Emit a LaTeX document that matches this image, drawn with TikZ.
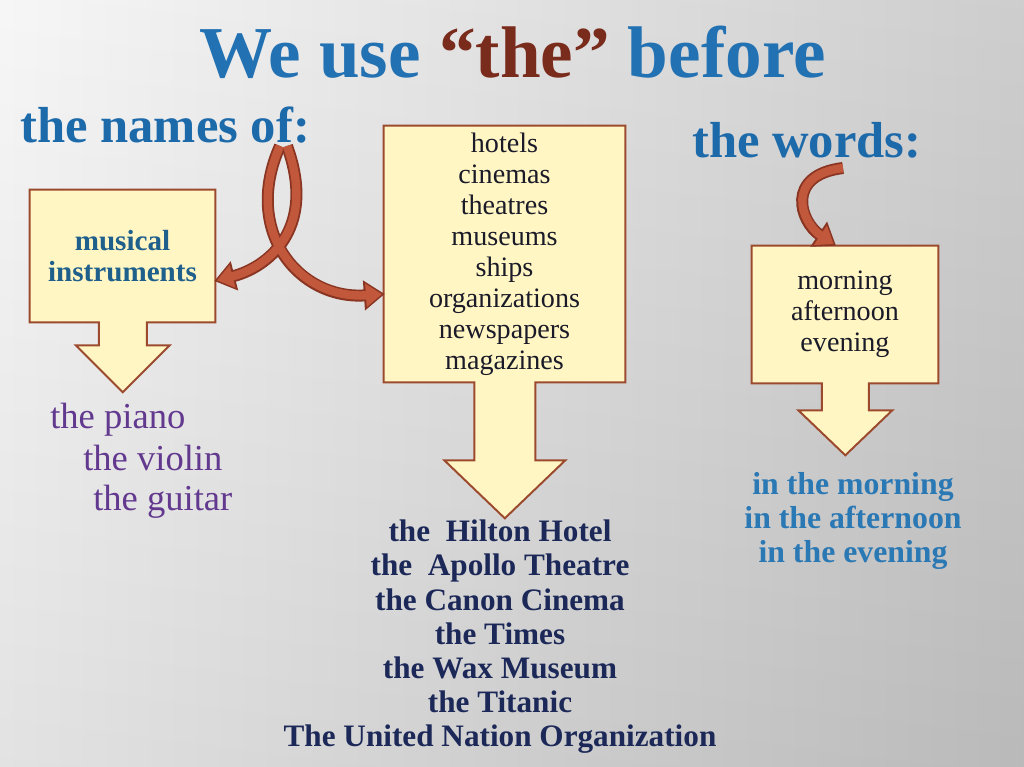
\documentclass[tikz,border=0pt]{standalone}
\usepackage{fontspec}
\setmainfont{Liberation Serif}
\usepackage{xcolor}
\usetikzlibrary{positioning, arrows.meta, calc, backgrounds}
\definecolor{titleblue}{HTML}{2271B3}
\definecolor{thebrown}{HTML}{7A2C1C}
\definecolor{headblue}{HTML}{1D6AAB}
\definecolor{boxfill}{HTML}{FFF6C4}
\definecolor{boxedge}{HTML}{9C4A2E}
\definecolor{ribbonfill}{HTML}{C1583C}
\definecolor{ribbonedge}{HTML}{8A3522}
\definecolor{tealblue}{HTML}{1F5F8C}
\definecolor{plum}{HTML}{62398F}
\definecolor{navy}{HTML}{1B2858}
\definecolor{skyblue}{HTML}{2A78B4}
\definecolor{inktext}{HTML}{1A1A28}

\begin{document}
\begin{tikzpicture}[
        x=0.025cm, y=-0.025cm,
        every node/.style={inner sep=0pt},
        heading/.style={font=\fontsize{36}{40}\selectfont\bfseries, text=headblue, anchor=base west},
        box/.style={align=center, font=\fontsize{20}{22}\selectfont, text=inktext},
        arrowbox/.style={draw=boxedge, fill=boxfill, line width=1.4pt, line join=miter},
        ribbon/.style={line width=3mm, ribbonedge, -{Triangle[width=7.2mm,length=5.2mm]}},
        ribboncore/.style={line width=2.1mm, ribbonfill, shorten >=0.7mm, -{Triangle[width=5.6mm,length=4mm]}},
        example/.style={font=\fontsize{26}{30}\selectfont, text=plum, anchor=base west},
        list/.style={align=center, font=\fontsize{22.2}{24.2}\selectfont\bfseries},
    ]
    \begin{scope}[on background layer]
        \shade[left color=gray!7, right color=gray!42] (0,0) rectangle (1024,767);
        \shade[top color=white, bottom color=black, opacity=0.08] (0,0) rectangle (1024,767);
    \end{scope}
    \useasboundingbox (0,0) rectangle (1024,767);

    % headings
    \node[font=\fontsize{52}{56}\selectfont\bfseries, text=titleblue, anchor=base] (title) at (512.5,78)
        {We use \textcolor{thebrown}{“the”} before};
    \node[heading] (namesof) at (20,143) {the names of:};
    \node[heading] (words) at (692,158) {the words:};

    % boxes
    \node[box, minimum width=4.625cm, minimum height=3.3cm, text=tealblue,
        font=\fontsize{20.7}{22}\selectfont\bfseries] (instr) at (122.5,256) {musical\\instruments};
    \node[box, minimum width=6.025cm, minimum height=6.4cm] (places) at (504.5,254)
        {hotels\\cinemas\\theatres\\museums\\ships\\organizations\\newspapers\\magazines};
    \node[box, minimum width=4.65cm, minimum height=3.425cm] (times) at (845,314.5)
        {morning\\afternoon\\evening};
    \begin{scope}[on background layer]
        \draw[arrowbox] (instr.north east) -- (instr.south east) -- ++(-68.5,0) -- ++(0,23) -- ++(23,0)
            -- ++(-47,47) -- ++(-47,-47) -- ++(23,0) -- ++(0,-23) -- (instr.south west) -- (instr.north west) -- cycle;
        \draw[arrowbox] (places.north east) -- (places.south east) -- ++(-90,0) -- ++(0,78) -- ++(30,0)
            -- ++(-60.5,58) -- ++(-60.5,-58) -- ++(30,0) -- ++(0,-78) -- (places.south west) -- (places.north west) -- cycle;
        \draw[arrowbox] (times.north east) -- (times.south east) -- ++(-69.5,0) -- ++(0,27) -- ++(23.5,0)
            -- ++(-47,45) -- ++(-47,-45) -- ++(23.5,0) -- ++(0,-27) -- (times.south west) -- (times.north west) -- cycle;
    \end{scope}

    % curved arrows
    \coordinate (ofA) at (280,146);
    \coordinate (ofB) at (287,146);
    \coordinate (wordsC) at (843,168);
    \foreach \s in {ribbon, ribboncore} {
        \draw[\s] (ofA) .. controls +(-38,85) and +(-86,6) .. ($(places.west)+(1,40)$);
        \draw[\s] (ofB) .. controls +(31,85) and +(51,-13) .. ($(instr.east)+(-1,25)$);
        \draw[\s] (wordsC) .. controls +(-58,7) and +(-36,-24) .. ($(times.north)+(-9,0)$);
    }

    % examples
    \node[example] (piano) at (50,428) {the piano};
    \node[example] (violin) at (83,470) {the violin};
    \node[example] (guitar) at (93,510) {the guitar};
    \node[list, text=navy, anchor=north] (names) at (500,520)
        {the\ \ Hilton Hotel\\the\ \ Apollo Theatre\\the Canon Cinema\\the Times\\the Wax Museum\\the Titanic\\The United Nation Organization};
    \node[list, text=skyblue, font=\fontsize{22.6}{24.2}\selectfont\bfseries] (daytime) at (853,521)
        {in the morning\\in the afternoon\\in the evening};
\end{tikzpicture}
\end{document}
